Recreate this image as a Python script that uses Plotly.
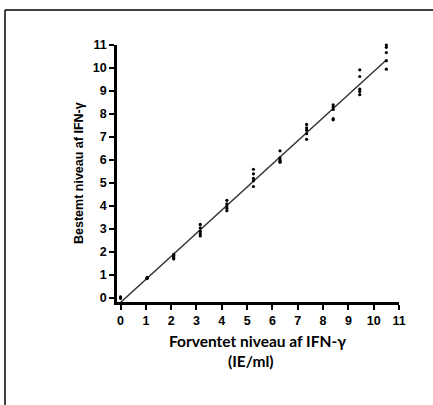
import plotly.graph_objects as go

# Expected levels (x) and measured replicate values (y)
expected = [0.0, 1.05, 2.1, 3.15, 4.2, 5.25, 6.3, 7.35, 8.4, 9.45, 10.5]
measured = [
    [0.05, 0.0, 0.0],
    [0.85, 0.88, 0.9],
    [1.7, 1.75, 1.8, 1.85, 1.9],
    [3.2, 3.05, 2.9, 2.8, 2.7],
    [4.25, 4.1, 4.0, 3.9, 3.8],
    [5.6, 5.4, 5.2, 5.1, 4.85],
    [6.4, 6.1, 6.0, 5.95, 5.9],
    [7.55, 7.4, 7.3, 7.15, 6.9],
    [8.4, 8.3, 8.2, 7.8, 7.75],
    [9.92, 9.63, 9.08, 8.98, 8.84],
    [11.0, 10.9, 10.67, 10.32, 9.95],
]
fit_x = [0.0, 10.5]
fit_y = [-0.19, 10.35]
ticks = list(range(0, 12))

px, py = [], []
for xv, ys in zip(expected, measured):
    for yv in ys:
        px.append(xv)
        py.append(yv)

fig = go.Figure()
fig.add_trace(go.Scatter(x=fit_x, y=fit_y, mode="lines",
                         line=dict(color="#333333", width=1.5), showlegend=False, cliponaxis=False))
fig.add_trace(go.Scatter(x=px, y=py, mode="markers",
                         marker=dict(color="black", size=3.2), showlegend=False, cliponaxis=False))

W, H = 433, 405
L, R, T, B = 117, 34, 45, 103

axis_common = dict(showline=True, linewidth=2.5, linecolor="black", ticks="outside",
                   ticklen=5, tickwidth=2, tickcolor="black", showgrid=False, zeroline=False,
                   tickfont=dict(family="Liberation Sans", size=12.5, color="black"),
                   tickvals=ticks, ticktext=["<b>%d</b>" % t for t in ticks])

fig.update_layout(
    width=W, height=H, margin=dict(l=L, r=R, t=T, b=B),
    paper_bgcolor="white", plot_bgcolor="white",
    xaxis=dict(range=[-0.14, 11.0], **axis_common),
    yaxis=dict(range=[-0.17, 11.0], **axis_common),
)

def xp(pxv):
    return (pxv - L) / (W - L - R)

def yp(pyv):
    return (H - B - pyv) / (H - T - B)

fig.add_annotation(text="<b>Bestemt niveau af IFN-γ</b>", xref="paper", yref="paper",
                   x=xp(70), y=yp(173), textangle=-90, showarrow=False,
                   font=dict(family="Liberation Sans", size=12.5, color="black"))
fig.add_annotation(text="<b>Forventet niveau af IFN-γ</b>", xref="paper", yref="paper",
                   x=xp(257), y=yp(352), showarrow=False,
                   font=dict(family="Lato", size=15.5, color="black"))
fig.add_annotation(text="<b>(IE/ml)</b>", xref="paper", yref="paper",
                   x=xp(251), y=yp(372), showarrow=False,
                   font=dict(family="Lato", size=15.5, color="black"))

# Frame lines (top and left) in paper pixel space
fig.add_shape(type="line", xref="paper", yref="paper", x0=xp(5), x1=xp(433), y0=yp(10), y1=yp(10),
              line=dict(color="black", width=1.5))
fig.add_shape(type="line", xref="paper", yref="paper", x0=xp(5), x1=xp(5), y0=yp(10), y1=yp(405),
              line=dict(color="black", width=1.5))

fig.write_html("out.html", config={"displayModeBar": False},
               post_script="document.body.style.margin='0';document.body.style.overflow='hidden';")
